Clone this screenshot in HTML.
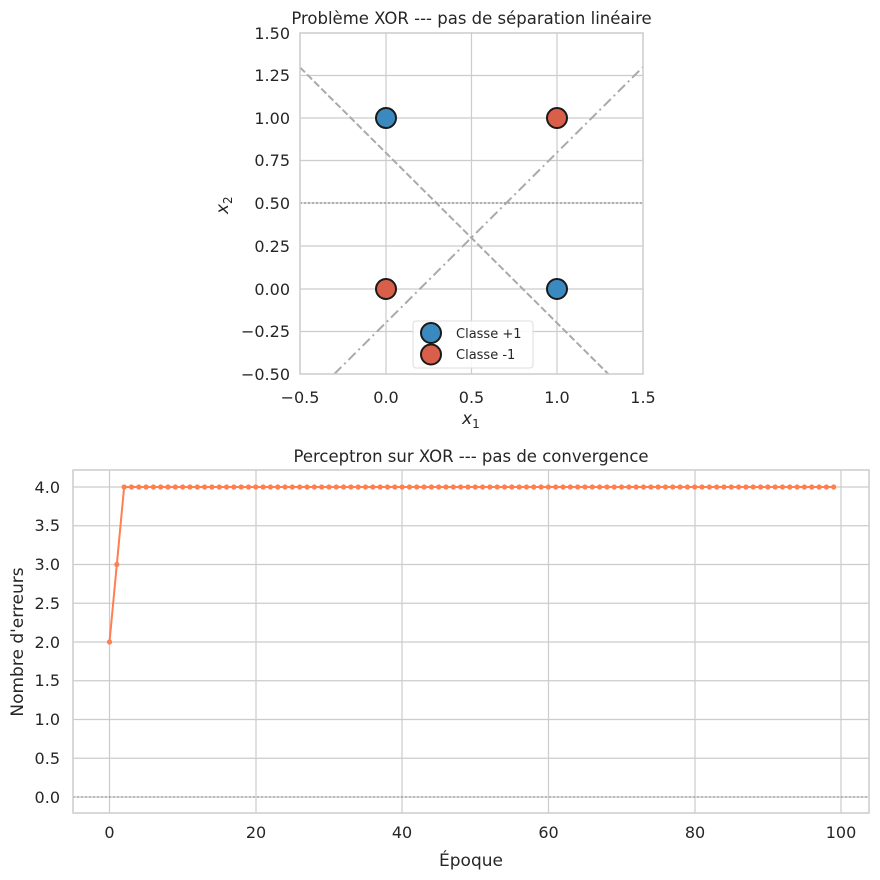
<!DOCTYPE html>
<html><head><meta charset="utf-8"><style>
body{margin:0;background:#fff}
svg{display:block;font-family:"DejaVu Sans","Liberation Sans",sans-serif;fill:#262626}
</style></head><body>
<svg id="s" width="880" height="880" viewBox="0 0 880 880" xmlns="http://www.w3.org/2000/svg">
<rect width="880" height="880" fill="#fff"/>
<g stroke="#cccccc" stroke-width="1.2">
<line x1="386" y1="33" x2="386" y2="374"/><line x1="471.5" y1="33" x2="471.5" y2="374"/><line x1="557" y1="33" x2="557" y2="374"/>
<line x1="300" y1="118" x2="643" y2="118"/><line x1="300" y1="160.5" x2="643" y2="160.5"/><line x1="300" y1="203" x2="643" y2="203"/><line x1="300" y1="246" x2="643" y2="246"/><line x1="300" y1="289" x2="643" y2="289"/><line x1="300" y1="331.5" x2="643" y2="331.5"/><line x1="300" y1="75.5" x2="643" y2="75.5"/>
</g>
<line x1="300" y1="67.4" x2="608.3" y2="374" stroke="#aaa" stroke-width="2" stroke-dasharray="7,3"/>
<line x1="334.3" y1="374" x2="643" y2="67" stroke="#aaa" stroke-width="2" stroke-dasharray="10,4,2,4"/>
<line x1="300" y1="203" x2="643" y2="203" stroke="#999" stroke-width="1.5" stroke-dasharray="2,2"/>
<rect x="300" y="33" width="343" height="341" fill="none" stroke="#ccc" stroke-width="1.5"/>
<g stroke="#1a1a1a" stroke-width="2">
<circle cx="386" cy="118" r="10" fill="#3a8ac0"/><circle cx="557" cy="289" r="10" fill="#3a8ac0"/>
<circle cx="557" cy="118" r="10" fill="#d95f4a"/><circle cx="386" cy="289" r="10" fill="#d95f4a"/>
</g>
<rect x="413" y="321" width="120" height="47" rx="3" fill="#fff" fill-opacity="0.85" stroke="#ddd"/>
<g stroke="#1a1a1a" stroke-width="2"><circle cx="431" cy="333" r="10" fill="#3a8ac0"/><circle cx="431" cy="354.5" r="10" fill="#d95f4a"/></g>
<text x="456" y="338" font-size="13">Classe +1</text><text x="456" y="359" font-size="13">Classe -1</text>
<g font-size="16" text-anchor="end">
<text x="290" y="39">1.50</text><text x="290" y="81">1.25</text><text x="290" y="124">1.00</text><text x="290" y="166">0.75</text><text x="290" y="209">0.50</text><text x="290" y="252">0.25</text><text x="290" y="295">0.00</text><text x="290" y="337">−0.25</text><text x="290" y="380">−0.50</text>
</g>
<g font-size="16" text-anchor="middle">
<text x="300" y="403">−0.5</text><text x="386" y="403">0.0</text><text x="471.5" y="403">0.5</text><text x="557" y="403">1.0</text><text x="643" y="403">1.5</text>
</g>
<text x="471.5" y="24" font-size="16.5" text-anchor="middle">Problème XOR --- pas de séparation linéaire</text>
<text x="462" y="424" font-size="17" font-style="italic">x<tspan font-size="12" dy="4" font-style="normal">1</tspan></text>
<text transform="translate(228,214) rotate(-90)" font-size="17" font-style="italic">x<tspan font-size="12" dy="4" font-style="normal">2</tspan></text>
<g stroke="#cccccc" stroke-width="1.2">
<line x1="109.5" y1="470" x2="109.5" y2="813"/><line x1="256" y1="470" x2="256" y2="813"/><line x1="402" y1="470" x2="402" y2="813"/><line x1="548.5" y1="470" x2="548.5" y2="813"/><line x1="695" y1="470" x2="695" y2="813"/><line x1="841" y1="470" x2="841" y2="813"/>
<line x1="73" y1="487" x2="869" y2="487"/><line x1="73" y1="564.5" x2="869" y2="564.5"/><line x1="73" y1="642" x2="869" y2="642"/><line x1="73" y1="719.5" x2="869" y2="719.5"/><line x1="73" y1="797" x2="869" y2="797"/><line x1="73" y1="525.75" x2="869" y2="525.75"/><line x1="73" y1="603.25" x2="869" y2="603.25"/><line x1="73" y1="680.75" x2="869" y2="680.75"/><line x1="73" y1="758.25" x2="869" y2="758.25"/>
</g>
<line x1="73" y1="797" x2="869" y2="797" stroke="#999" stroke-width="1.2" stroke-dasharray="2,2"/>
<rect x="73" y="470" width="796" height="343" fill="none" stroke="#ccc" stroke-width="1.5"/>
<g id="ser"></g>
<g font-size="16" text-anchor="end">
<text x="60" y="493">4.0</text><text x="60" y="531">3.5</text><text x="60" y="570">3.0</text><text x="60" y="609">2.5</text><text x="60" y="648">2.0</text><text x="60" y="686">1.5</text><text x="60" y="725">1.0</text><text x="60" y="764">0.5</text><text x="60" y="803">0.0</text>
</g>
<g font-size="16" text-anchor="middle">
<text x="109.5" y="838">0</text><text x="256" y="838">20</text><text x="402" y="838">40</text><text x="548.5" y="838">60</text><text x="695" y="838">80</text><text x="841" y="838">100</text>
</g>
<text x="471" y="462" font-size="16.5" text-anchor="middle">Perceptron sur XOR --- pas de convergence</text>
<text x="471" y="866" font-size="17" text-anchor="middle">Époque</text>
<text transform="translate(23,642) rotate(-90)" font-size="17" text-anchor="middle">Nombre d'erreurs</text>
</svg>
<script>
var g=document.getElementById('ser'),ns='http://www.w3.org/2000/svg',pts=[];
for(var i=0;i<100;i++){var v=i==0?2:(i==1?3:4);pts.push([109.5+i*7.315,797-v*77.5]);}
var pl=document.createElementNS(ns,'polyline');pl.setAttribute('points',pts.map(function(p){return p.join(',')}).join(' '));
pl.setAttribute('fill','none');pl.setAttribute('stroke','#ff7f50');pl.setAttribute('stroke-width','2');g.appendChild(pl);
pts.forEach(function(p){var c=document.createElementNS(ns,'circle');c.setAttribute('cx',p[0]);c.setAttribute('cy',p[1]);c.setAttribute('r','2.6');c.setAttribute('fill','#ff7f50');g.appendChild(c);});
</script>
</body></html>
